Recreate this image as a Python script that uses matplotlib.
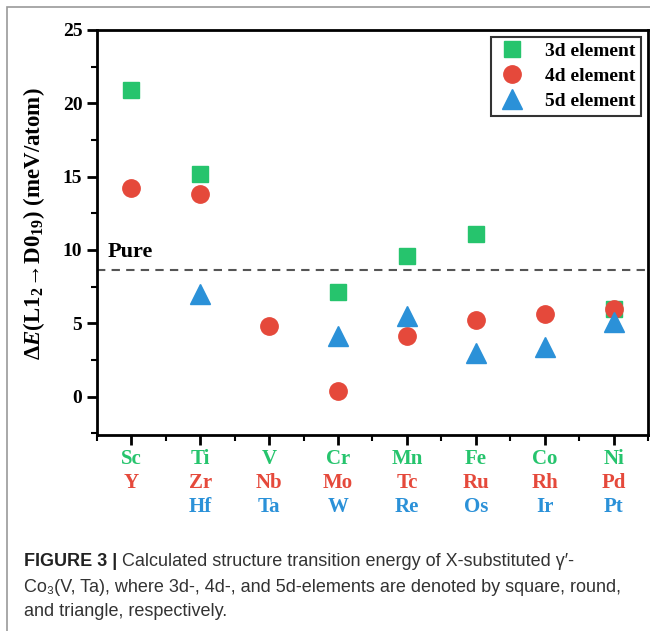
import matplotlib.pyplot as plt
import matplotlib.patches as mpatches
import numpy as np

# substituent groups, one column per row of the periodic table
row_3d = ['Sc', 'Ti', 'V', 'Cr', 'Mn', 'Fe', 'Co', 'Ni']
row_4d = ['Y', 'Zr', 'Nb', 'Mo', 'Tc', 'Ru', 'Rh', 'Pd']
row_5d = ['', 'Hf', 'Ta', 'W', 'Re', 'Os', 'Ir', 'Pt']

# transition energy dE(L12 -> D019), meV/atom (nan = not shown)
e_3d = [20.9, 15.2, np.nan, 7.15, 9.6, 11.1, np.nan, 6.0]
e_4d = [14.2, 13.8, 4.8, 0.4, 4.1, 5.2, 5.6, 6.0]
e_5d = [np.nan, 7.0, np.nan, 4.1, 5.5, 3.0, 3.4, 5.1]
e_pure = 8.65

c3, c4, c5 = '#26c46d', '#e5493b', '#2b91d8'

plt.rcParams['font.family'] = ['Liberation Serif', 'DejaVu Serif']
plt.rcParams['font.weight'] = 'bold'
plt.rcParams['mathtext.fontset'] = 'custom'
plt.rcParams['mathtext.rm'] = 'Liberation Serif:bold'
plt.rcParams['mathtext.bf'] = 'Liberation Serif:bold'
plt.rcParams['mathtext.it'] = 'Liberation Serif:italic:bold'

fig = plt.figure(figsize=(6.5, 6.31), dpi=100)
ax = fig.add_axes([0.149, 0.311, 0.848, 0.6415])

x = np.arange(1, len(row_3d) + 1)
ax.plot(x, e_3d, 's', color=c3, ms=11, label='3d element')
ax.plot(x, e_4d, 'o', color=c4, ms=12.5, label='4d element')
ax.plot(x, e_5d, '^', color=c5, ms=14.5, label='5d element')

ax.axhline(e_pure, color='#555555', lw=1.5, ls=(0, (4, 3)))
ax.text(0.65, 9.2, 'Pure', fontsize=16, fontweight='bold', ha='left', va='bottom')

ax.set_xlim(0.5, 8.5)
ax.set_ylim(-2.6, 25)
ax.set_xticks(x)
ax.set_xticks(np.arange(0.5, 8.6, 1), minor=True)
ax.set_xticklabels([])
ax.set_yticks(np.arange(0, 26, 5))
ax.set_yticks(np.arange(-2.5, 25, 2.5), minor=True)
ax.tick_params(axis='both', which='major', direction='out', length=7, width=2, labelsize=14)
ax.tick_params(axis='both', which='minor', direction='out', length=4, width=1.5)
ax.tick_params(axis='x', which='both', top=False)
for lab in ax.get_yticklabels():
    lab.set_fontweight('bold')
for s in ax.spines.values():
    s.set_linewidth(2)

# three rows of element names under each tick
for xi, a, b, c in zip(x, row_3d, row_4d, row_5d):
    for name, col, yy in ((a, c3, -0.059), (b, c4, -0.118), (c, c5, -0.178)):
        ax.text(xi, yy, name, color=col, fontsize=15, fontweight='bold',
                ha='center', va='center', transform=ax.get_xaxis_transform())

ax.set_ylabel(r'$\Delta\mathit{E}$(L1$_2$$\!\rightarrow\!$D0$_{19}$) (meV/atom)',
              fontsize=16.5, fontweight='bold', labelpad=11, y=0.522)

leg = ax.legend(loc='upper right', fontsize=14, frameon=True, fancybox=False,
                edgecolor='black', handletextpad=0.9, handlelength=1.6,
                borderpad=0.3, labelspacing=0.38, borderaxespad=0.35,
                markerscale=1.0)
leg.get_frame().set_linewidth(1.5)

# caption block and its frame
fig.patches.append(mpatches.Rectangle((7 / 650, -0.05), 1.2, 1 - 7 / 631 + 0.05,
                                      transform=fig.transFigure, fill=False,
                                      edgecolor='#9a9a9a', lw=1.2))
cap_font = ['Liberation Sans', 'DejaVu Sans']
head = fig.text(24 / 650, 1 - 562 / 631, 'FIGURE 3 |', fontsize=13, fontweight='bold',
                family=cap_font, va='center', ha='left', color='#222222')
fig.canvas.draw()
bb = head.get_window_extent().transformed(fig.transFigure.inverted())
fig.text(bb.x1 + 5 / 650, 1 - 562 / 631,
         'Calculated structure transition energy of X-substituted \u03b3\u2032-',
         fontsize=13, fontweight='normal', family=cap_font, va='center', ha='left',
         color='#333333')
fig.text(24 / 650, 1 - 588 / 631,
         'Co\u2083(V, Ta), where 3d-, 4d-, and 5d-elements are denoted by square, round,',
         fontsize=13, fontweight='normal', family=cap_font, va='center', ha='left',
         color='#333333')
fig.text(24 / 650, 1 - 612 / 631, 'and triangle, respectively.',
         fontsize=13, fontweight='normal', family=cap_font, va='center', ha='left',
         color='#333333')

fig.savefig('out.png', dpi=100)
